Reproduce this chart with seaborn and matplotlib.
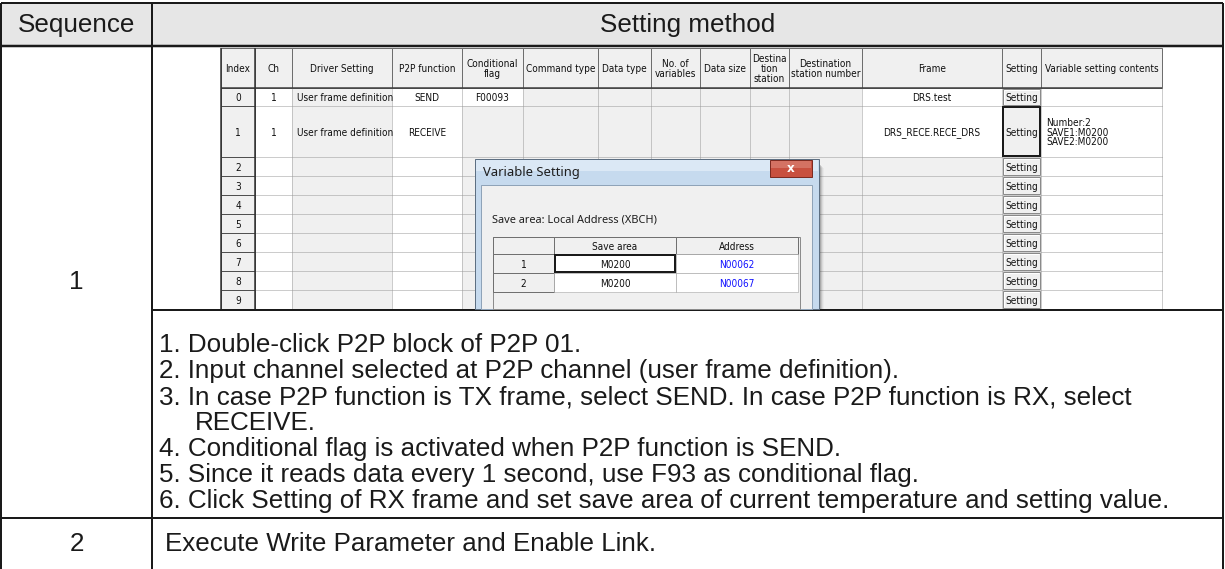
import matplotlib
matplotlib.use("Agg")
import matplotlib.pyplot as plt
from matplotlib.patches import Rectangle
from matplotlib import font_manager
import seaborn as sns

# ---------------- data ----------------
outer_headers = ["Sequence", "Setting method"]
sequence_labels = ["1", "2"]
col_headers = ["Index", "Ch", "Driver Setting", "P2P function", "Conditional\nflag",
               "Command type", "Data type", "No. of\nvariables", "Data size",
               "Destina\ntion\nstation", "Destination\nstation number", "Frame",
               "Setting", "Variable setting contents"]
row_index = ["0", "1", "2", "3", "4", "5", "6", "7", "8", "9"]
ch_values = ["1", "1"]
driver_values = ["User frame definition", "User frame definition"]
p2p_values = ["SEND", "RECEIVE"]
cond_values = ["F00093", ""]
frame_values = ["DRS.test", "DRS_RECE.RECE_DRS"]
var_contents = ["", "Number:2\nSAVE1:M0200\nSAVE2:M0200"]
button_label = "Setting"
dialog_title = "Variable Setting"
dialog_caption = "Save area: Local Address (XBCH)"
dialog_headers = ["", "Save area", "Address"]
dialog_rows = ["1", "2"]
save_areas = ["M0200", "M0200"]
addresses = ["N00062", "N00067"]
step_lines = ["1. Double-click P2P block of P2P 01.",
              "2. Input channel selected at P2P channel (user frame definition).",
              "3. In case P2P function is TX frame, select SEND. In case P2P function is RX, select",
              "RECEIVE.",
              "4. Conditional flag is activated when P2P function is SEND.",
              "5. Since it reads data every 1 second, use F93 as conditional flag.",
              "6. Click Setting of RX frame and set save area of current temperature and setting value."]
step2_text = "Execute Write Parameter and Enable Link."

# ---------------- style ----------------
sns.set_theme(style="white")
fl = font_manager.fontManager.ttflist
names = {f.name for f in fl}
MAIN = "Liberation Sans" if "Liberation Sans" in names else "DejaVu Sans"
UI = "Noto Sans" if "Noto Sans" in names else MAIN
NARROW, STRETCH, SMALL = MAIN, 'normal', 9.6
if "Liberation Sans Narrow" in names:
    NARROW, SMALL = "Liberation Sans Narrow", 11.5
elif any(f.name == "DejaVu Sans" and f.stretch in ('condensed', 'semi-condensed') for f in fl):
    NARROW, STRETCH, SMALL = "DejaVu Sans", 'condensed', 10
elif "Roboto Condensed" in names:
    NARROW, SMALL = "Roboto Condensed", 11
plt.rcParams['font.family'] = [MAIN, 'DejaVu Sans']

W, H = 1225, 569
fig = plt.figure(figsize=(W / 100, H / 100), dpi=100)
ax = fig.add_axes([0, 0, 1, 1])
ax.set_xlim(0, W)
ax.set_ylim(H, 0)
ax.axis('off')

def pt(p):
    return p * 0.72

def rect(x0, y0, x1, y1, fc='none', ec='none', lw=1, ls='-', z=1, alpha=1):
    ax.add_patch(Rectangle((x0, y0), x1 - x0, y1 - y0, facecolor=fc, edgecolor=ec,
                           linewidth=pt(lw), linestyle=ls, zorder=z, alpha=alpha))

def hl(y, x0, x1, c='k', lw=1, ls='-', z=2):
    ax.plot([x0, x1], [y, y], color=c, lw=pt(lw), ls=ls, zorder=z, solid_capstyle='butt')

def vl(x, y0, y1, c='k', lw=1, ls='-', z=2):
    ax.plot([x, x], [y0, y1], color=c, lw=pt(lw), ls=ls, zorder=z, solid_capstyle='butt')

def txt(x, y, s, size, ha='center', va='center', color='k', family=None, z=5, **kw):
    ax.text(x, y, s, fontsize=pt(size), ha=ha, va=va, color=color,
            family=family or MAIN, zorder=z, **kw)

def stxt(x, y, s, ha='center', color='#101010', z=5, **kw):
    txt(x, y, s, SMALL, ha=ha, color=color, family=NARROW, z=z, fontstretch=STRETCH, **kw)

# ---------------- outer table ----------------
LEFT, DIV, RIGHT = 1, 152, 1223
TOP, HEAD_B, SHOT_B, ROW2_T = 3, 46, 310, 518
BIG = 26
rect(LEFT, TOP, RIGHT, HEAD_B, fc='#e6e6e6', z=0)
hl(TOP, LEFT, RIGHT, lw=2)
hl(HEAD_B, LEFT, RIGHT, lw=2.5, z=6)
hl(SHOT_B, DIV, RIGHT, lw=2, z=6)
hl(ROW2_T, LEFT, RIGHT, lw=2, z=6)
vl(LEFT, TOP, H, lw=2, z=6)
vl(RIGHT, TOP, H, lw=2, z=6)
vl(DIV, TOP, H, lw=2, z=6)
txt((LEFT + DIV) / 2, 25, outer_headers[0], BIG)
txt((DIV + RIGHT) / 2, 25, outer_headers[1], BIG)
txt((LEFT + DIV) / 2, (HEAD_B + ROW2_T) / 2, sequence_labels[0], BIG)
txt((LEFT + DIV) / 2, 544, sequence_labels[1], BIG)
txt(165, 544, step2_text, BIG, ha='left')

line_y0, pitch = 345, 26
for i, s in enumerate(step_lines):
    x = 159 if s[0].isdigit() else 195
    txt(x, line_y0 + i * pitch, s, BIG, ha='left')

# ---------------- screenshot grid ----------------
col_x = [221, 255, 292, 392, 462, 523, 598, 651, 700, 750, 789, 862, 1002, 1041, 1162]
row_y = [48, 88, 106, 157, 176, 195, 214, 233, 252, 271, 290, 309]
GRAY = '#f0f0f0'
DOT = (0, (1, 1))
gray_cols = {2, 5, 6, 7, 8, 9, 10}
for r in range(10):
    y0, y1 = row_y[r + 1], row_y[r + 2]
    for c in range(1, len(col_x) - 1):
        x0, x1 = col_x[c], col_x[c + 1]
        shade = c in gray_cols or (c == 4 and r > 0) or (c == 11 and r > 1)
        rect(x0, y0, x1, y1, fc=GRAY if shade else 'white', z=1)
for r in range(2, len(row_y) - 1):
    hl(row_y[r], col_x[1], col_x[-1], c='#9a9a9a', ls=DOT, z=2)
for c in range(2, len(col_x)):
    vl(col_x[c], row_y[1], row_y[-1], c='#9a9a9a', ls=DOT, z=2)

# header row
for c in range(len(col_x) - 1):
    rect(col_x[c], row_y[0], col_x[c + 1], row_y[1], fc=GRAY, ec='#6e6e6e', lw=1, z=3)
    stxt((col_x[c] + col_x[c + 1]) / 2, (row_y[0] + row_y[1]) / 2 + 1, col_headers[c],
         linespacing=0.95)
hl(row_y[1], col_x[0], col_x[-1], c='#3c3c3c', lw=1.5, z=4)

# index column
for r in range(10):
    y0, y1 = row_y[r + 1], row_y[r + 2]
    rect(col_x[0], y0, col_x[1], y1, fc=GRAY, ec='#505050', lw=1, z=3)
    stxt((col_x[0] + col_x[1]) / 2, (y0 + y1) / 2 + 1, row_index[r])
vl(col_x[0], row_y[0], row_y[-1], c='#303030', lw=1.5, z=4)
vl(col_x[1], row_y[0], row_y[-1], c='#303030', lw=1.5, z=4)

def cell_center(c, r):
    return (col_x[c] + col_x[c + 1]) / 2, (row_y[r + 1] + row_y[r + 2]) / 2 + 1

for r in range(2):
    x, y = cell_center(1, r)
    stxt(x, y, ch_values[r])
    x, y = cell_center(2, r)
    stxt(col_x[2] + 5, y, driver_values[r], ha='left')
    x, y = cell_center(3, r)
    stxt(x, y, p2p_values[r])
    x, y = cell_center(4, r)
    stxt(x, y, cond_values[r])
    x, y = cell_center(11, r)
    stxt(x, y, frame_values[r])
    x, y = cell_center(13, r)
    stxt(col_x[13] + 5, y, var_contents[r], ha='left', linespacing=0.95)

# setting buttons
for r in range(10):
    y0, y1 = row_y[r + 1] + 1, row_y[r + 2] - 1
    x0, x1 = col_x[12] + 1, col_x[13] - 1
    if r == 1:
        rect(x0, y0, x1, y1, fc=GRAY, ec='k', lw=2, z=3)
    else:
        rect(x0, y0, x1, y1, fc=GRAY, ec='#8a8a8a', lw=1, z=3)
        hl(y0 + 1, x0 + 1, x1 - 1, c='white', lw=1, z=4)
        vl(x0 + 1, y0 + 1, y1 - 1, c='white', lw=1, z=4)
    stxt((x0 + x1) / 2, (y0 + y1) / 2 + 1, button_label)

# ---------------- dialog ----------------
DX0, DY0, DX1, DY1 = 475, 159, 819, 309
for k, a in enumerate([0.18, 0.12, 0.07, 0.04]):
    rect(DX1, DY0 + 6 + k, DX1 + k + 2, DY1, fc='#303030', z=7, alpha=a)
rect(DX0, DY0, DX1, DY1, fc='#c6daee', ec='#5d6f82', lw=1, z=8)
rect(DX0 + 1, DY0 + 1, DX1 - 1, DY0 + 12, fc='#dbe8f5', z=8)
rect(481, 185, 812, DY1, fc=GRAY, ec='#8fa3b8', lw=1, z=9)
rect(770, 160, 812, 177, fc='#c8503f', ec='#7d2b21', lw=1, z=9)
rect(771, 161, 811, 168, fc='#dd8a7c', z=9, alpha=0.6)
txt(791, 168.5, "x", 12, color='white', family='DejaVu Sans', weight='bold', z=10)
txt(483, 172, dialog_title, 13, ha='left', family=UI, color='#1e1e1e', z=10)
txt(492, 220, dialog_caption, 11, ha='left', family=UI, color='#1e1e1e', z=10)

tx = [493, 554, 676, 798]
ty = [237, 254, 273, 292]
rect(493, 237, 800, DY1, fc=GRAY, ec='#8c8c8c', lw=1, z=10)
for c in range(3):
    rect(tx[c], ty[0], tx[c + 1], ty[1], fc=GRAY, ec='#707070', lw=1, z=11)
    stxt((tx[c] + tx[c + 1]) / 2, (ty[0] + ty[1]) / 2 + 1, dialog_headers[c], z=12)
for r in range(2):
    y0, y1 = ty[r + 1], ty[r + 2]
    rect(tx[0], y0, tx[1], y1, fc=GRAY, ec='#707070', lw=1, z=11)
    stxt((tx[0] + tx[1]) / 2, (y0 + y1) / 2 + 1, dialog_rows[r], z=12)
    rect(tx[1], y0, tx[2], y1, fc='white', ec='#9a9a9a', lw=1, ls=DOT, z=11)
    rect(tx[2], y0, tx[3], y1, fc='white', ec='#9a9a9a', lw=1, ls=DOT, z=11)
    stxt((tx[1] + tx[2]) / 2, (y0 + y1) / 2 + 1, save_areas[r], z=12)
    stxt((tx[2] + tx[3]) / 2, (y0 + y1) / 2 + 1, addresses[r], color='#1010ff', z=12)
rect(tx[1] + 1, ty[1] + 1, tx[2] - 1, ty[2] - 1, ec='k', lw=2, z=12)

fig.savefig("out.png", dpi=100)
